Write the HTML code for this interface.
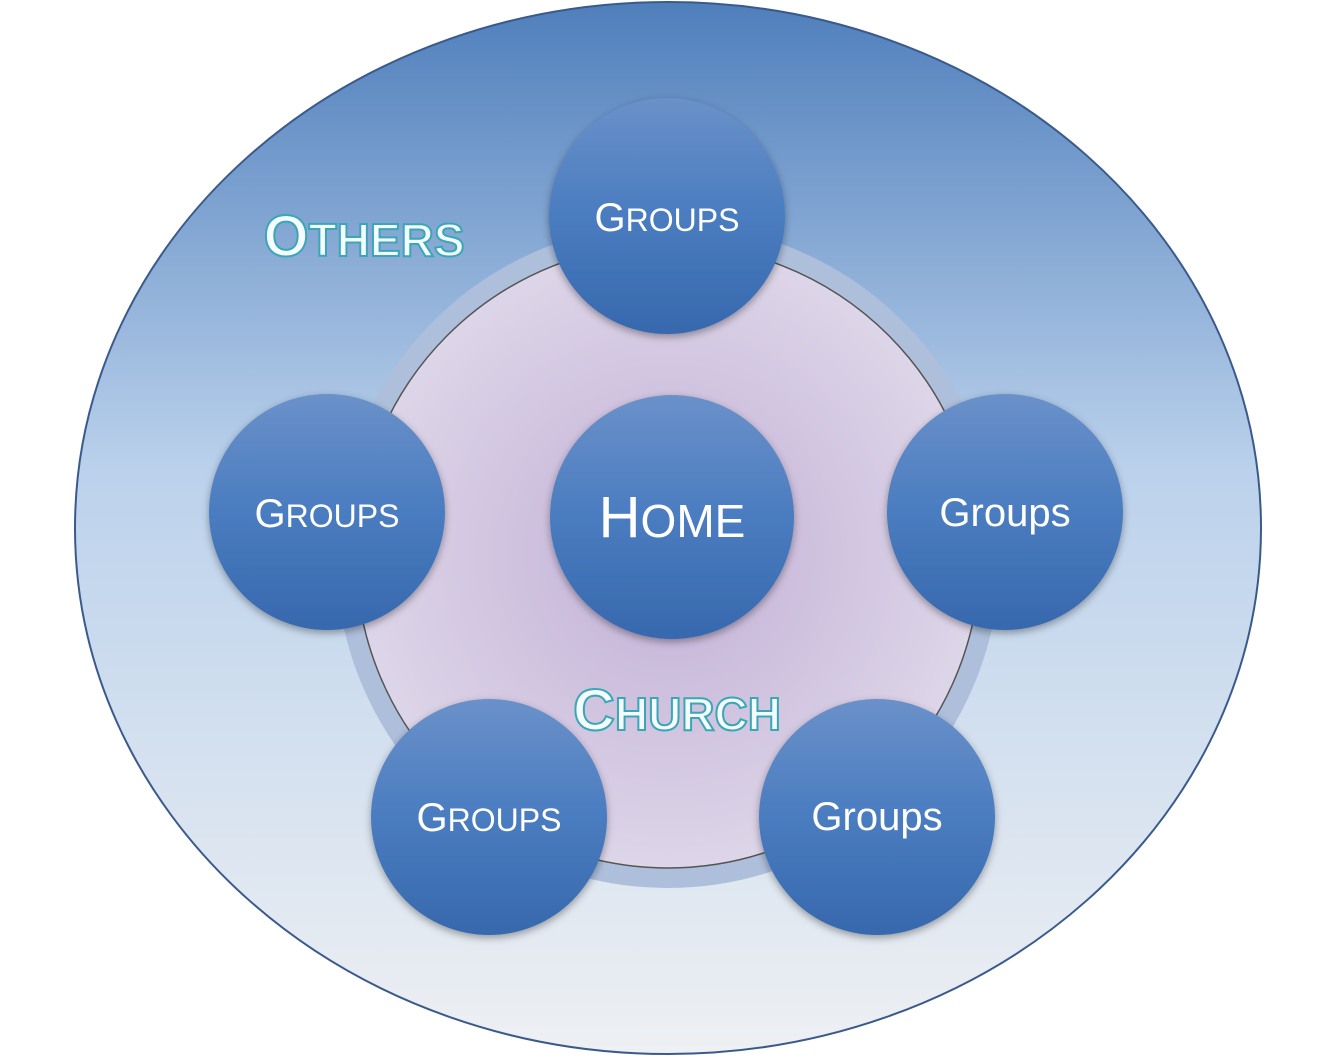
<!DOCTYPE html>
<html><head><meta charset="utf-8"><style>
html,body{margin:0;padding:0;background:#fff;}
svg text{font-family:"Liberation Sans",sans-serif;}
</style></head><body>
<svg width="1334" height="1057" viewBox="0 0 1334 1057" xmlns="http://www.w3.org/2000/svg">
<defs>
<linearGradient id="bg" x1="0" y1="0" x2="0" y2="1">
<stop offset="0" stop-color="#4f7fbc"/>
<stop offset="0.45" stop-color="#bcd2ec"/>
<stop offset="1" stop-color="#eef0f3"/>
</linearGradient>
<radialGradient id="inner" cx="0.5" cy="0.5" r="0.5">
<stop offset="0" stop-color="#c2b0d6"/>
<stop offset="1" stop-color="#ddd5e8"/>
</radialGradient>
<linearGradient id="ball" x1="0" y1="0" x2="0" y2="1">
<stop offset="0" stop-color="#6a91c9"/>
<stop offset="0.5" stop-color="#4a7cc0"/>
<stop offset="1" stop-color="#3768ad"/>
</linearGradient>
<filter id="sh" x="-20%" y="-20%" width="140%" height="140%">
<feDropShadow dx="0" dy="3" stdDeviation="4" flood-color="#000" flood-opacity="0.35"/>
</filter>
</defs>
<ellipse cx="668" cy="528" rx="593" ry="526" fill="url(#bg)" stroke="#3a5a8c" stroke-width="2"/>
<circle cx="668" cy="556" r="322" fill="none" stroke="#aebfdc" stroke-width="20"/>
<circle cx="668" cy="556" r="312" fill="url(#inner)" stroke="#555" stroke-width="1.5"/>
<g filter="url(#sh)" fill="url(#ball)">
<circle cx="667" cy="216" r="118"/>
<circle cx="327" cy="512" r="118"/>
<circle cx="1005" cy="512" r="118"/>
<circle cx="489" cy="817" r="118"/>
<circle cx="877" cy="817" r="118"/>
<circle cx="672" cy="517" r="122"/>
</g>
<g fill="#fff" text-anchor="middle">
<text x="667" y="231" font-size="40">G<tspan font-size="32">ROUPS</tspan></text>
<text x="327" y="527" font-size="40">G<tspan font-size="32">ROUPS</tspan></text>
<text x="489" y="831" font-size="40">G<tspan font-size="32">ROUPS</tspan></text>
<text x="1005" y="526" font-size="40">Groups</text>
<text x="877" y="830" font-size="40">Groups</text>
<text x="672" y="537" font-size="58">H<tspan font-size="46">OME</tspan></text>
</g>
<g fill="#f4fcff" stroke="#3aa6b6" stroke-width="2" text-anchor="middle" font-weight="bold">
<text x="364" y="256" font-size="58">O<tspan font-size="46">THERS</tspan></text>
<text x="677" y="730" font-size="58">C<tspan font-size="46">HURCH</tspan></text>
</g>
</svg>
</body></html>
